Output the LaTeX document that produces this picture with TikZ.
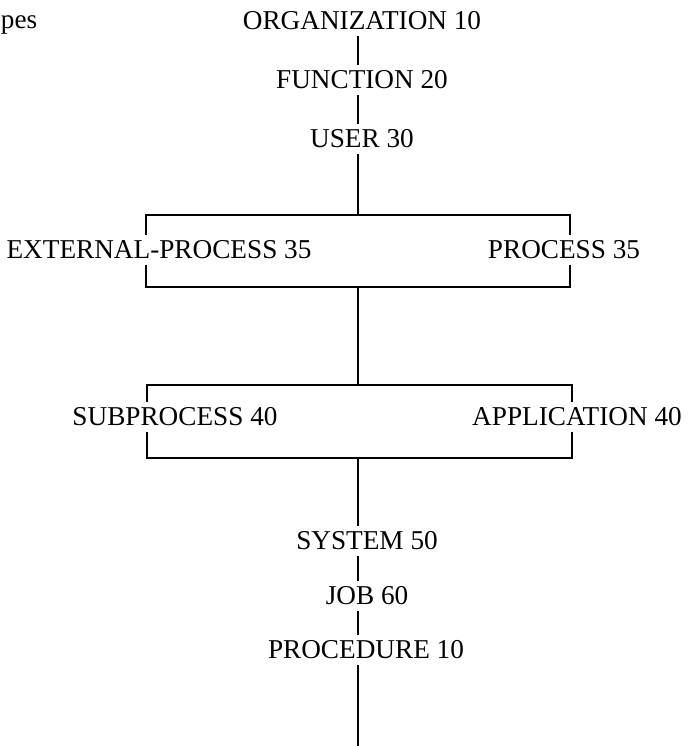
\documentclass[tikz,border=0pt]{standalone}
\usepackage{fontspec}
\setmainfont{Liberation Serif}
\usetikzlibrary{positioning}

\begin{document}
\begin{tikzpicture}[x=0.02cm,y=-0.02cm,-,line width=1.1pt]
    \tikzstyle{entity}=[font=\fontsize{15.5}{18}\selectfont, inner sep=3pt]
    \useasboundingbox (0,0) rectangle (695,746);
    \coordinate (spine) at (358,0);
    % top of the chain
    \node[entity, anchor=base west, inner sep=0pt] (pes) at (0,29) {pes};
    \node[entity] (org) at (362,21) {ORGANIZATION 10};
    \node[entity] (fun) at (362,80) {FUNCTION 20};
    \node[entity] (usr) at (362,139) {USER 30};
    % first bracket
    \coordinate (b1tl) at (146,215);
    \coordinate (b1tr) at (570,215);
    \coordinate (b1bl) at (146,287);
    \coordinate (b1br) at (570,287);
    \node[entity] (ext) at (159,250) {EXTERNAL-PROCESS 35};
    \node[entity] (proc) at (564,250) {PROCESS 35};
    % second bracket
    \coordinate (b2tl) at (147,385);
    \coordinate (b2tr) at (572,385);
    \coordinate (b2bl) at (147,458);
    \coordinate (b2br) at (572,458);
    \node[entity] (sub) at (175,417) {SUBPROCESS 40};
    \node[entity] (app) at (577,417) {APPLICATION 40};
    % bottom of the chain
    \node[entity] (sys) at (367,541) {SYSTEM 50};
    \node[entity] (job) at (367,596) {JOB 60};
    \node[entity] (prc) at (366,650) {PROCEDURE 10};
    \coordinate (end) at (358,746);

    \draw (org.south -| spine) -- (fun.north -| spine);
    \draw (fun.south -| spine) -- (usr.north -| spine);
    \draw (usr.south -| spine) -- (spine |- b1tl);
    \draw (ext.north -| b1tl) -- (b1tl) -- (b1tr) -- (proc.north -| b1tr);
    \draw (ext.south -| b1bl) -- (b1bl) -- (b1br) -- (proc.south -| b1br);
    \draw (spine |- b1bl) -- (spine |- b2tl);
    \draw (sub.north -| b2tl) -- (b2tl) -- (b2tr) -- (app.north -| b2tr);
    \draw (sub.south -| b2bl) -- (b2bl) -- (b2br) -- (app.south -| b2br);
    \draw (spine |- b2bl) -- (sys.north -| spine);
    \draw (sys.south -| spine) -- (job.north -| spine);
    \draw (job.south -| spine) -- (prc.north -| spine);
    \draw (prc.south -| spine) -- (end);
\end{tikzpicture}
\end{document}
